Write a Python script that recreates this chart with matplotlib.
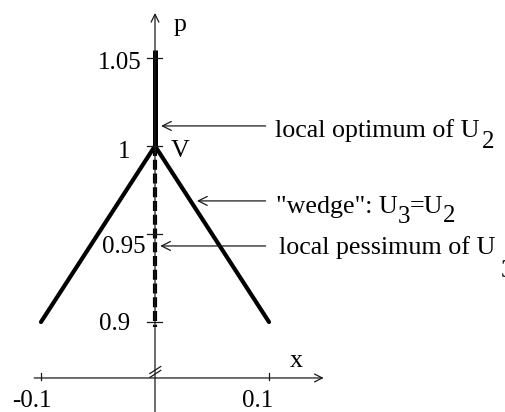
import matplotlib
matplotlib.use("Agg")
import matplotlib.pyplot as plt

# --- values -------------------------------------------------------------
x_ticks = [-0.1, 0.1]
x_tick_labels = ["-0.1", "0.1"]
p_ticks = [1.05, 1.0, 0.95, 0.9]
p_tick_labels = ["1.05", "1", "0.95", "0.9"]

# wedge U3 = U2 : two branches meeting at the vertex V
wedge_x = [-0.1, 0.0, 0.1]
wedge_p = [0.9, 1.0, 0.9]

# local optimum of U2 (solid) and local pessimum of U3 (dashed) along x = 0
optimum_p = [1.0, 1.0545]
pessimum_p = [1.0, 0.897]

# points the callouts refer to
callout_p = {"optimum": 1.0114, "wedge": 0.9688, "pessimum": 0.9432}
callout_x = {"optimum": 0.0053, "wedge": 0.0368, "pessimum": 0.0045}
callout_tail_x = 0.097

# axis extents
x_axis_p = 0.8682
x_axis_range = [-0.106, 0.148]
p_axis_range = [0.849, 1.0756]
p_break = 0.8727

# --- figure -------------------------------------------------------------
W, H, DPI = 506, 412, 100
SX, SY = 1140.0, 1760.0      # pixels per unit
X0, Y0 = 155.0, 146.0        # pixel of (x=0, p=1), from top-left

fig = plt.figure(figsize=(W / DPI, H / DPI), dpi=DPI)
ax = fig.add_axes([0, 0, 1, 1])
ax.set_xlim(-X0 / SX, (W - X0) / SX)
ax.set_ylim(1 - (H - Y0) / SY, 1 + Y0 / SY)
ax.axis("off")

serif = ["Liberation Serif", "DejaVu Serif"]
TICK_FS = 18
TXT_FS = 18.7
SUB_FS = 18
AX_COLOR = "#1a1a1a"

# axes with open arrowheads
ax.annotate("", xy=(0, p_axis_range[1]), xytext=(0, p_axis_range[0]),
            arrowprops=dict(arrowstyle="->", lw=0.9, color=AX_COLOR,
                            shrinkA=0, shrinkB=0, mutation_scale=14))
ax.annotate("", xy=(x_axis_range[1], x_axis_p), xytext=(x_axis_range[0], x_axis_p),
            arrowprops=dict(arrowstyle="->", lw=0.9, color=AX_COLOR,
                            shrinkA=0, shrinkB=0, mutation_scale=14))

# axis break marks on the p-axis
for off in (0.0, 0.0022):
    ax.plot([-0.0045, 0.0050], [p_break - 0.0020 - off, p_break + 0.0020 - off],
            color=AX_COLOR, lw=0.9)

# curves
ax.plot(wedge_x, wedge_p, color="black", lw=3.0, solid_capstyle="round",
        solid_joinstyle="miter")
ax.plot([0, 0], optimum_p, color="black", lw=3.6, solid_capstyle="butt")
ax.plot([0, 0], pessimum_p, color="black", lw=3.0, linestyle=(0, (2.4, 0.9)),
        dash_capstyle="butt")

# ticks on p-axis
for p in p_ticks:
    ax.plot([-0.007, 0.006], [p, p], color=AX_COLOR, lw=0.9)
p_label_offsets = [(-13, -11, "right"), (-25, -12, "right"),
                   (-9, -19, "right"), (-25, -8, "right")]
for p, lab, (dx, dy, ha) in zip(p_ticks, p_tick_labels, p_label_offsets):
    ax.annotate(lab, xy=(0, p), xytext=(dx, dy), textcoords="offset pixels",
                ha=ha, va="baseline", fontsize=TICK_FS, family=serif)

# ticks on x-axis
for x in x_ticks:
    ax.plot([x, x], [x_axis_p - 0.0012, x_axis_p + 0.0030], color=AX_COLOR, lw=0.9)
x_label_offsets = [(-9, -29), (-11, -29)]
for x, lab, (dx, dy) in zip(x_ticks, x_tick_labels, x_label_offsets):
    ax.annotate(lab, xy=(x, x_axis_p), xytext=(dx, dy), textcoords="offset pixels",
                ha="center", va="baseline", fontsize=TICK_FS, family=serif)

# axis names and vertex label
ax.annotate("x", xy=(x_axis_range[1], x_axis_p), xytext=(-27, 11),
            textcoords="offset pixels", ha="center", va="baseline",
            fontsize=TXT_FS, family=serif)
ax.annotate("p", xy=(0, p_axis_range[1]), xytext=(25, -18),
            textcoords="offset pixels", ha="center", va="baseline",
            fontsize=TXT_FS, family=serif)
ax.annotate("V", xy=(0, 1.0), xytext=(25, -11),
            textcoords="offset pixels", ha="center", va="baseline",
            fontsize=TXT_FS, family=serif)


def chain(prev, s, dx, dy, fs):
    """Place a text piece right after `prev`, shifted by (dx, dy) pixels."""
    return ax.annotate(s, xy=(1, 0), xycoords=prev, xytext=(dx, dy),
                       textcoords="offset pixels", ha="left", va="bottom",
                       fontsize=fs, family=serif, annotation_clip=False)


def callout(key, text, dx, dy):
    p = callout_p[key]
    ax.annotate("", xy=(callout_x[key], p), xytext=(callout_tail_x, p),
                arrowprops=dict(arrowstyle="->", lw=0.9, color=AX_COLOR,
                                shrinkA=0, shrinkB=0, mutation_scale=16))
    return ax.annotate(text, xy=(callout_tail_x, p), xytext=(dx, dy),
                       textcoords="offset pixels", ha="left", va="baseline",
                       fontsize=TXT_FS, family=serif)


t = callout("optimum", "local optimum of U", 9, -11)
chain(t, "2", 3, -11, SUB_FS)

t = callout("wedge", "\"wedge\": U", 10, -12)
t = chain(t, "3", 0, -10, SUB_FS)
t = chain(t, "=U", 0, 10, TXT_FS)
chain(t, "2", 0, -9, SUB_FS)

t = callout("pessimum", "local pessimum of U", 13, -8)
chain(t, "3", 6, -23, SUB_FS)

fig.savefig("out.png", dpi=DPI)
